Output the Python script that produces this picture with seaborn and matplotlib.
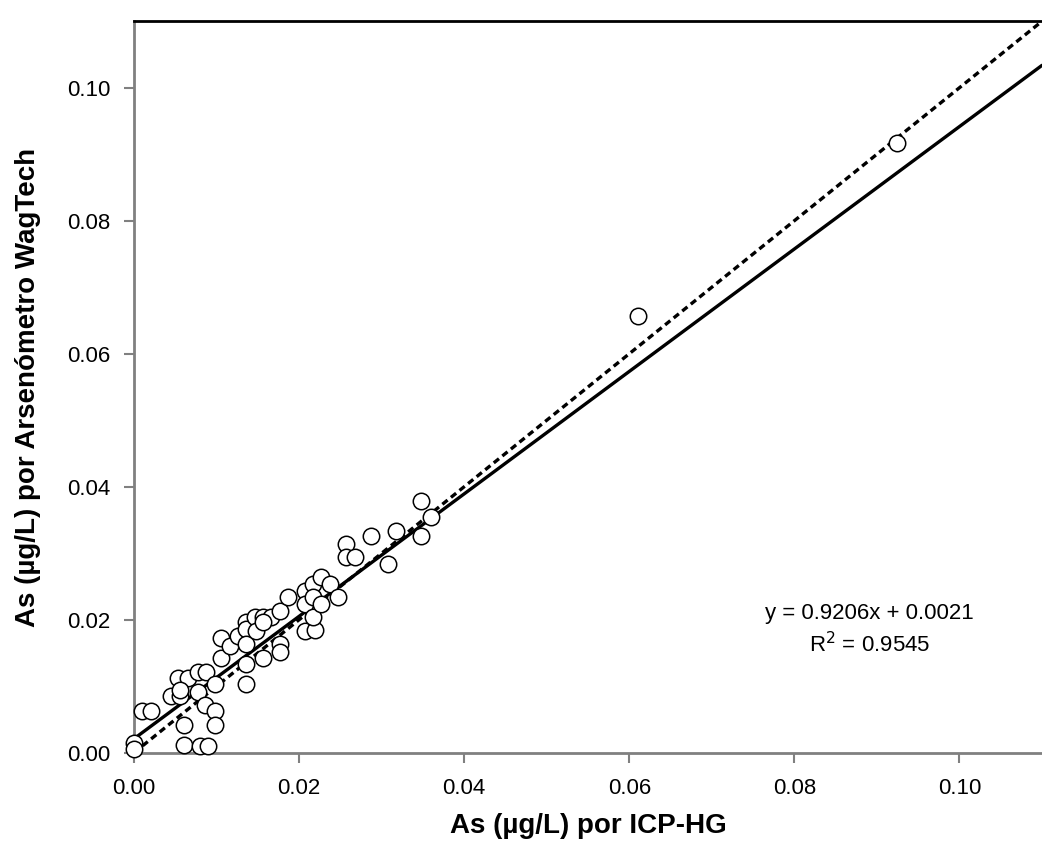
import numpy as np
import pandas as pd
import matplotlib
matplotlib.use("Agg")
import matplotlib.pyplot as plt
import seaborn as sns

# values (ug/L)
icp_hg = [0.000, 0.000, 0.001, 0.002, 0.006, 0.008, 0.009, 0.006, 0.0045, 0.0056,
          0.0053, 0.0065, 0.0078, 0.0087, 0.0056, 0.0078, 0.0086, 0.0098, 0.0098, 0.0098,
          0.0105, 0.0105, 0.0116, 0.0126, 0.0136, 0.0136, 0.0136, 0.0136, 0.0136, 0.0147,
          0.0156, 0.0148, 0.0166, 0.0156, 0.0156, 0.0177, 0.0177, 0.0177, 0.0187, 0.0207,
          0.0207, 0.0207, 0.0219, 0.0217, 0.0217, 0.0217, 0.0227, 0.0227, 0.0238, 0.0247,
          0.0257, 0.0257, 0.0268, 0.0287, 0.0308, 0.0318, 0.0348, 0.0348, 0.036, 0.0611,
          0.0924]
wagtech = [0.0015, 0.0005, 0.0062, 0.0062, 0.0012, 0.0010, 0.0010, 0.0042, 0.0085, 0.0085,
           0.0113, 0.0113, 0.0122, 0.0122, 0.0095, 0.0092, 0.0072, 0.0062, 0.0042, 0.0103,
           0.0143, 0.0173, 0.0160, 0.0175, 0.0196, 0.0186, 0.0163, 0.0133, 0.0103, 0.0204,
           0.0204, 0.0183, 0.0204, 0.0196, 0.0143, 0.0213, 0.0163, 0.0152, 0.0234, 0.0243,
           0.0223, 0.0183, 0.0185, 0.0253, 0.0234, 0.0204, 0.0264, 0.0223, 0.0253, 0.0234,
           0.0314, 0.0294, 0.0294, 0.0326, 0.0284, 0.0333, 0.0379, 0.0326, 0.0354, 0.0656,
           0.0917]

slope = 0.9206
intercept = 0.0021
r2 = 0.9545
x_ticks = [0.00, 0.02, 0.04, 0.06, 0.08, 0.10]
line_x = [0.0, 0.11]

df = pd.DataFrame({'icp': icp_hg, 'wag': wagtech})
fit = pd.DataFrame({'x': line_x, 'y': [slope * v + intercept for v in line_x]})
one = pd.DataFrame({'x': line_x, 'y': line_x})

sns.set_style('white')
plt.rcParams['font.family'] = ['Liberation Sans', 'DejaVu Sans']
plt.rcParams['text.color'] = 'black'
plt.rcParams['axes.labelcolor'] = 'black'

fig = plt.figure(figsize=(10.42, 8.49), dpi=100)
ax = fig.add_axes([0.1286, 0.1134, 0.8714, 0.8616])

# 1:1 line and fitted line
sns.lineplot(data=one, x='x', y='y', ax=ax, color='black', lw=2.4, linestyle=(0, (2, 1.3)), zorder=2)
sns.lineplot(data=fit, x='x', y='y', ax=ax, color='black', lw=2.4, zorder=2)
sns.scatterplot(data=df, x='icp', y='wag', ax=ax, s=140, facecolor='white', edgecolor='black',
                linewidth=1.1, zorder=3, clip_on=False)

ax.set_xlim(0, 0.11)
ax.set_ylim(0, 0.11)
ax.set_xticks(x_ticks)
ax.set_yticks(x_ticks)
ax.set_xticklabels([f'{v:.2f}' for v in x_ticks], fontsize=16)
ax.set_yticklabels([f'{v:.2f}' for v in x_ticks], fontsize=16)
ax.tick_params(axis='x', direction='out', length=7, width=1.5, color='#808080', pad=11,
               bottom=True, labelcolor='black')
ax.tick_params(axis='y', direction='out', length=7, width=1.5, color='#808080', pad=10,
               left=True, labelcolor='black')

for side in ['left', 'bottom']:
    ax.spines[side].set_color('#808080')
    ax.spines[side].set_linewidth(2)
ax.spines['top'].set_color('black')
ax.spines['top'].set_linewidth(2)
ax.spines['right'].set_visible(False)

ax.set_xlabel('As (µg/L) por ICP-HG', fontsize=20, fontweight='bold', labelpad=10)
ax.set_ylabel('As (µg/L) por Arsenómetro WagTech', fontsize=20, fontweight='bold', labelpad=19)

ax.text(0.0891, 0.0210, f'y = {slope}x + {intercept}', fontsize=16, ha='center', va='center')
ax.text(0.0891, 0.0163, f'R$^2$ = {r2}', fontsize=16, ha='center', va='center')

fig.savefig('out.png', dpi=100)
